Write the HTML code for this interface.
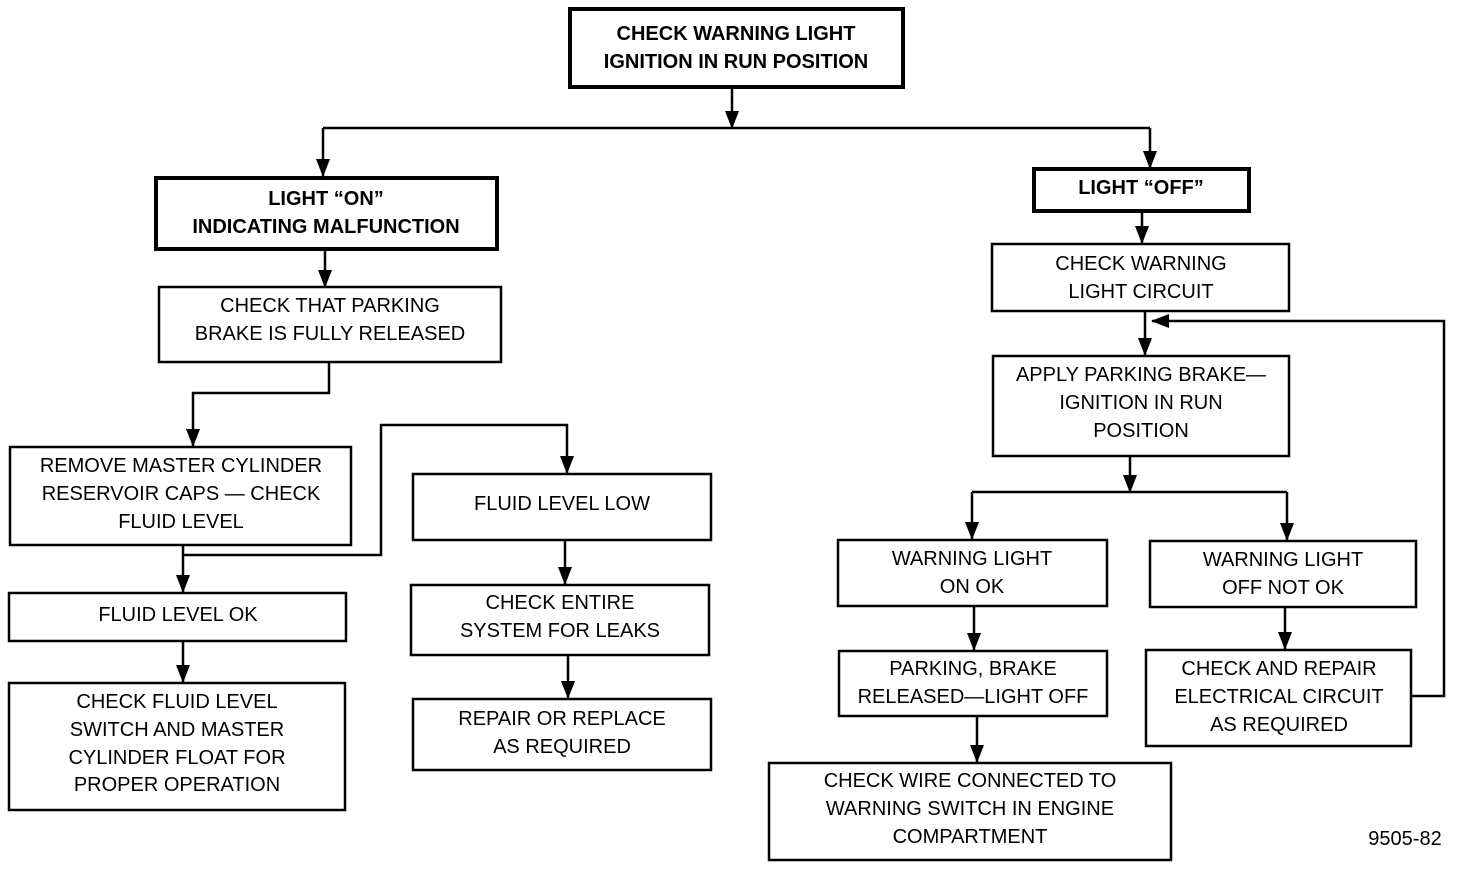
<!DOCTYPE html>
<html><head><meta charset="utf-8"><style>
html,body{margin:0;padding:0;background:#fff;}
svg text{font-family:"Liberation Sans",sans-serif;font-size:20px;fill:#000;text-anchor:middle;}
.b{font-weight:bold;}
</style></head><body>
<svg width="1472" height="886" xmlns="http://www.w3.org/2000/svg">
<defs><marker id="a" markerWidth="18" markerHeight="14" refX="17" refY="7" orient="auto" markerUnits="userSpaceOnUse" viewBox="0 0 18 14"><path d="M0,0 L18,7 L0,14 Z" fill="#000"/></marker></defs>
<g fill="none" stroke="#000" stroke-width="2.5">
<rect x="570" y="9" width="333" height="78" stroke-width="4"/>
<rect x="156" y="178" width="341" height="71" stroke-width="4"/>
<rect x="1034" y="169" width="215" height="42" stroke-width="4"/>
<rect x="159" y="287" width="342" height="75"/>
<rect x="10" y="447" width="341" height="98"/>
<rect x="413" y="474" width="298" height="66"/>
<rect x="411" y="585" width="298" height="70"/>
<rect x="413" y="699" width="298" height="71"/>
<rect x="9" y="593" width="337" height="48"/>
<rect x="9" y="683" width="336" height="127"/>
<rect x="992" y="244" width="297" height="67"/>
<rect x="993" y="356" width="296" height="100"/>
<rect x="838" y="540" width="269" height="66"/>
<rect x="1150" y="541" width="266" height="66"/>
<rect x="839" y="651" width="268" height="65"/>
<rect x="769" y="763" width="402" height="97"/>
<rect x="1146" y="650" width="265" height="96"/>
<path d="M732 87 V128" marker-end="url(#a)"/>
<path d="M323 128 H1150"/>
<path d="M323 128 V176" marker-end="url(#a)"/>
<path d="M1150 128 V168" marker-end="url(#a)"/>
<path d="M325 249 V287" marker-end="url(#a)"/>
<path d="M329 362 V393 H193 V446" marker-end="url(#a)"/>
<path d="M183 545 V592" marker-end="url(#a)"/>
<path d="M183 555 H381 V425 H567 V473" marker-end="url(#a)"/>
<path d="M565 540 V584" marker-end="url(#a)"/>
<path d="M568 655 V698" marker-end="url(#a)"/>
<path d="M183 641 V682" marker-end="url(#a)"/>
<path d="M1142 211 V243" marker-end="url(#a)"/>
<path d="M1145 311 V355" marker-end="url(#a)"/>
<path d="M1130 456 V492" marker-end="url(#a)"/>
<path d="M972 492 H1287"/>
<path d="M972 492 V539" marker-end="url(#a)"/>
<path d="M1287 492 V540" marker-end="url(#a)"/>
<path d="M974 606 V650" marker-end="url(#a)"/>
<path d="M977 716 V762" marker-end="url(#a)"/>
<path d="M1285 607 V649" marker-end="url(#a)"/>
<path d="M1411 696 H1444 V321 H1152" marker-end="url(#a)"/>
</g>
<text class="b" x="736" y="40">CHECK WARNING LIGHT</text>
<text class="b" x="736" y="68">IGNITION IN RUN POSITION</text>
<text class="b" x="326" y="205">LIGHT “ON”</text>
<text class="b" x="326" y="233">INDICATING MALFUNCTION</text>
<text class="b" x="1141" y="194">LIGHT “OFF”</text>
<text x="330" y="312">CHECK THAT PARKING</text>
<text x="330" y="340">BRAKE IS FULLY RELEASED</text>
<text x="181" y="472">REMOVE MASTER CYLINDER</text>
<text x="181" y="500">RESERVOIR CAPS — CHECK</text>
<text x="181" y="528">FLUID LEVEL</text>
<text x="562" y="510">FLUID LEVEL LOW</text>
<text x="560" y="609">CHECK ENTIRE</text>
<text x="560" y="637">SYSTEM FOR LEAKS</text>
<text x="562" y="725">REPAIR OR REPLACE</text>
<text x="562" y="753">AS REQUIRED</text>
<text x="178" y="621">FLUID LEVEL OK</text>
<text x="177" y="708">CHECK FLUID LEVEL</text>
<text x="177" y="736">SWITCH AND MASTER</text>
<text x="177" y="764">CYLINDER FLOAT FOR</text>
<text x="177" y="791">PROPER OPERATION</text>
<text x="1141" y="270">CHECK WARNING</text>
<text x="1141" y="298">LIGHT CIRCUIT</text>
<text x="1141" y="381">APPLY PARKING BRAKE—</text>
<text x="1141" y="409">IGNITION IN RUN</text>
<text x="1141" y="437">POSITION</text>
<text x="972" y="565">WARNING LIGHT</text>
<text x="972" y="593">ON OK</text>
<text x="1283" y="566">WARNING LIGHT</text>
<text x="1283" y="594">OFF NOT OK</text>
<text x="973" y="675">PARKING, BRAKE</text>
<text x="973" y="703">RELEASED—LIGHT OFF</text>
<text x="970" y="787">CHECK WIRE CONNECTED TO</text>
<text x="970" y="815">WARNING SWITCH IN ENGINE</text>
<text x="970" y="843">COMPARTMENT</text>
<text x="1279" y="675">CHECK AND REPAIR</text>
<text x="1279" y="703">ELECTRICAL CIRCUIT</text>
<text x="1279" y="731">AS REQUIRED</text>
<text x="1405" y="845">9505-82</text>
</svg>
</body></html>
